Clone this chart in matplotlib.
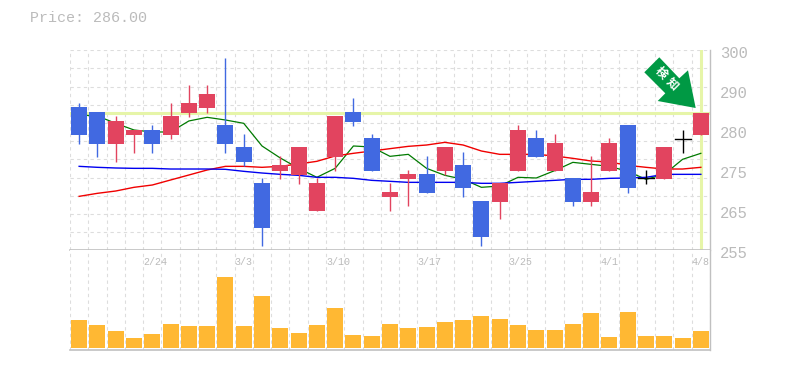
import matplotlib
matplotlib.use("Agg")
import numpy as np
import matplotlib.pyplot as plt
from matplotlib.patches import Polygon, Rectangle

# prices
opens = [287.25, 286.12, 278.92, 280.94, 282.07, 280.94, 285.90, 287.02, 283.20, 278.24,
         270.14, 272.84, 271.94, 263.84, 275.99, 286.12, 280.27, 266.99, 271.04, 272.17,
         272.84, 274.19, 266.09, 265.87, 272.84, 280.27, 272.84, 271.27, 265.87, 272.84,
         283.20, 271.27, 271.04, 280.04, 280.94]
closes = [280.94, 278.92, 284.10, 282.07, 278.92, 285.22, 288.15, 290.17, 278.92, 274.87,
          260.01, 274.19, 278.24, 270.14, 285.22, 283.87, 272.84, 268.12, 272.17, 267.89,
          278.24, 269.02, 257.99, 270.14, 282.07, 275.99, 279.14, 265.87, 268.12, 279.14,
          269.02, 271.27, 278.24, 280.04, 286.00]
highs = [288.15, 286.12, 285.22, 282.07, 283.20, 288.15, 292.20, 292.20, 298.27, 281.17,
         271.27, 276.22, 278.24, 271.27, 285.22, 289.27, 281.17, 270.14, 273.07, 276.22,
         278.24, 277.12, 266.09, 270.14, 283.20, 282.07, 281.17, 271.27, 276.22, 280.27,
         283.20, 273.07, 278.24, 282.07, 286.00]
lows = [278.92, 275.99, 274.87, 276.89, 276.89, 280.04, 285.00, 285.90, 276.89, 273.97,
        255.96, 271.04, 269.92, 263.84, 272.84, 282.97, 272.84, 263.84, 264.97, 267.89,
        271.94, 266.99, 255.96, 262.04, 272.84, 275.99, 272.84, 264.97, 264.97, 272.84,
        267.89, 269.92, 271.04, 276.89, 280.94]
volumes = [85, 70, 52, 31, 43, 73, 67, 67, 214, 67, 157, 61, 46, 70, 121, 40, 37, 73,
           61, 64, 79, 85, 97, 88, 70, 55, 55, 73, 106, 34, 109, 37, 37, 31, 52]

ma_short = [285.45, 285.22, 283.57, 282.07, 281.62, 281.62, 284.10, 284.92, 284.32, 283.57,
            278.47, 275.77, 273.44, 271.42, 273.44, 278.47, 278.24, 276.14, 276.59, 273.44,
            271.87, 270.97, 269.17, 269.47, 271.42, 271.27, 272.92, 274.79, 274.34, 273.89,
            272.77, 270.97, 272.09, 275.47, 276.82]
ma_mid = [267.14, 267.82, 268.34, 269.17, 269.69, 270.82, 271.94, 273.07, 273.89, 273.89,
          273.67, 273.89, 274.42, 275.02, 276.22, 276.82, 277.34, 277.87, 278.39, 278.69,
          279.29, 278.69, 277.34, 276.59, 276.59, 276.59, 276.22, 275.69, 275.09, 274.87,
          274.12, 273.67, 273.29, 273.29, 273.67]
ma_long = [273.89, 273.67, 273.52, 273.44, 273.44, 273.29, 273.29, 273.29, 273.22, 272.77,
           272.39, 272.09, 271.87, 271.42, 271.42, 271.19, 270.74, 270.52, 270.29, 270.29,
           270.29, 270.29, 270.07, 270.07, 270.29, 270.52, 270.74, 270.97, 270.97, 271.19,
           271.27, 271.42, 272.09, 272.09, 272.09]

date_idx = [4, 9, 14, 19, 24, 29, 34]
date_labels = ["2/24", "3/3", "3/10", "3/17", "3/25", "4/1", "4/8"]
price_ticks = [300, 291, 282, 273, 264, 255]
price_labels = ["300", "290", "280", "275", "265", "255"]
last_price = 286.00

UP = "#e2445f"
DOWN = "#4169e1"
GREY = "#c0c0c0"
GRID = "#dddddd"
HL = "#e6f5a8"
MONO = "Liberation Mono"

fig = plt.figure(figsize=(7.85, 3.7), dpi=100)
ax = fig.add_axes([70 / 785, 1 - 250.3 / 370, 640 / 785, 200 / 370])
vax = fig.add_axes([70 / 785, 1 - 350 / 370, 640 / 785, 99.7 / 370])

n = len(opens)
x = np.arange(n)

for a in (ax, vax):
    a.set_xlim(-0.5, n - 0.5)
    a.set_xticks(np.arange(n + 1) - 0.5)
    a.tick_params(length=0, labelbottom=False, labelleft=False)
    a.grid(True, color=GRID, lw=0.8, ls=(0, (3, 3)))
    a.set_axisbelow(True)
    a.spines["left"].set_visible(False)
    a.spines["top"].set_visible(False)
    a.spines["right"].set_color(GREY)
    a.spines["bottom"].set_color(GREY)
    a.spines["bottom"].set_linewidth(1.2)
    a.spines["right"].set_linewidth(1)

ax.set_ylim(255, 300)
ax.set_yticks(np.linspace(255, 300, 12))
vax.set_ylim(-6, 294)
vax.set_yticks([])

# highlight of the last price and the last day
ax.axhline(last_price, color=HL, lw=2.2, zorder=1.5)
ax.plot([x[-1], x[-1]], [255.5, 300], color=HL, lw=2.2, zorder=1.5)

ax.plot(x, ma_short, color="#007a00", lw=0.9, zorder=2)
ax.plot(x, ma_mid, color="#f00000", lw=1, zorder=2)
ax.plot(x, ma_long, color="#0000f0", lw=1, zorder=2)

for i in range(n):
    if opens[i] == closes[i]:
        c = "black"
    elif closes[i] > opens[i]:
        c = UP
    else:
        c = DOWN
    ax.plot([x[i], x[i]], [lows[i], highs[i]], color=c, lw=1, zorder=3, solid_capstyle="butt")
    if c == "black":
        ax.plot([x[i] - 0.44, x[i] + 0.44], [opens[i], opens[i]], color=c, lw=1, zorder=3)
    else:
        ax.add_patch(Rectangle((x[i] - 0.44, min(opens[i], closes[i])), 0.88,
                               abs(closes[i] - opens[i]), color=c, lw=0, zorder=3))

vax.bar(x, volumes, width=0.88, color="#ffb833", zorder=3)

for i, lab in zip(date_idx, date_labels):
    vax.annotate(lab, (i - 0.5, 1), xycoords=vax.get_xaxis_transform(),
                 xytext=(0, -12), textcoords="offset pixels", ha="left", va="center",
                 family=MONO, fontsize=7.2, color="#bbbbbb")

for p, lab in zip(price_ticks, price_labels):
    ax.annotate(lab, (1, p), xycoords=ax.get_yaxis_transform(), xytext=(10, -3),
                textcoords="offset pixels", ha="left", va="center",
                family=MONO, fontsize=11.2, color="#bbbbbb", annotation_clip=False)

fig.text(30 / 785, 1 - 18 / 370, f"Price: {last_price:.2f}", family=MONO, fontsize=10.8,
         color="#bbbbbb", va="center", ha="left")

# arrow pointing at the last candle, outline in picture pixels
arrow_px = [(659.3, 57.3), (679.3, 78.3), (688, 70.3), (695.7, 108), (657.7, 101),
            (665.3, 93.3), (644.3, 72.3)]
arrow = Polygon([(px / 785, 1 - py / 370) for px, py in arrow_px], closed=True,
                transform=fig.transFigure, color="#009944", lw=0, zorder=5)
fig.add_artist(arrow)
fig.text(661 / 785, 1 - 73 / 370, "検", family=["Noto Sans CJK JP", "DejaVu Sans"], fontsize=8.5,
         color="white", rotation=-45, ha="center", va="center", weight="bold", zorder=6)
fig.text(672 / 785, 1 - 84 / 370, "知", family=["Noto Sans CJK JP", "DejaVu Sans"], fontsize=8.5,
         color="white", rotation=-45, ha="center", va="center", weight="bold", zorder=6)

fig.savefig("out.png", dpi=100)
